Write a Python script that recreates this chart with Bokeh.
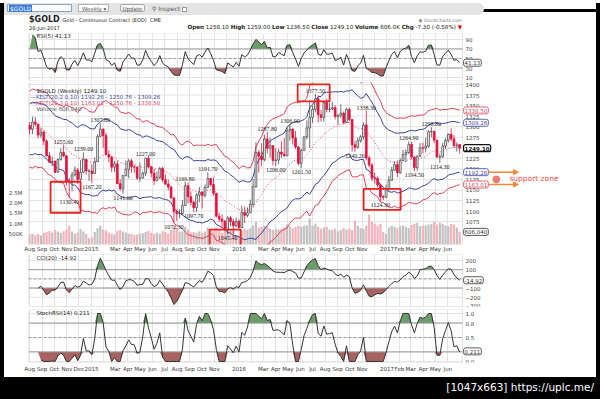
import numpy as np
import pandas as pd
from bokeh.plotting import figure
from bokeh.models import (Range1d, LinearAxis, FixedTicker, Label, Arrow, NormalHead,
                          Div, BoxAnnotation, NumeralTickFormatter)
from bokeh.layouts import column, row
from bokeh.core.properties import value
from bokeh.embed import file_html
from bokeh.resources import INLINE

# ---------------- data (weekly bars, first bar = week ending 2014-08-01) ----------------
first_week = "2014-08-01"

open_px = [1303, 1294, 1311, 1306, 1280, 1287, 1266, 1231, 1216, 1218,
           1192, 1222, 1239, 1231, 1171, 1169, 1186, 1197, 1175, 1192,
           1222, 1195, 1195, 1189, 1217, 1277, 1294, 1279, 1234, 1228,
           1204, 1212, 1165, 1153, 1184, 1199, 1219, 1205, 1204, 1178,
           1178, 1190, 1225, 1205, 1190, 1172, 1180, 1201, 1174, 1164,
           1157, 1131, 1099, 1094, 1094, 1113, 1160, 1134, 1121, 1108,
           1138, 1145, 1137, 1156, 1177, 1163, 1142, 1088, 1081, 1076,
           1056, 1084, 1075, 1065, 1076, 1061, 1097, 1090, 1096, 1116,
           1158, 1239, 1230, 1222, 1271, 1249, 1255, 1220, 1221, 1240,
           1235, 1231, 1290, 1294, 1273, 1252, 1213, 1244, 1276, 1297,
           1322, 1341, 1366, 1328, 1322, 1357, 1341, 1342, 1345, 1324,
           1327, 1332, 1310, 1341, 1317, 1257, 1251, 1267, 1276, 1304,
           1226, 1209, 1178, 1177, 1162, 1134, 1133, 1152, 1173, 1197,
           1210, 1191, 1220, 1234, 1239, 1258, 1228, 1203, 1230, 1250,
           1249, 1254, 1288, 1289, 1268, 1228, 1228, 1254, 1268, 1282,
           1271, 1255, 1258.1]

high_px = [1311, 1324, 1323, 1307, 1298, 1291, 1270, 1240, 1229, 1220,
           1225, 1249, 1255.6, 1232, 1178, 1193, 1206, 1202, 1221, 1239,
           1225, 1199, 1210, 1227, 1282, 1307.8, 1296, 1286, 1244, 1230,
           1219, 1220, 1175, 1185, 1220, 1224, 1224, 1209, 1205, 1215,
           1193, 1227, 1232, 1206, 1200, 1194, 1205, 1205, 1187, 1175,
           1160, 1134, 1104, 1104, 1126, 1169.8, 1168, 1147, 1124, 1143,
           1157, 1146, 1163, 1191.7, 1179, 1180, 1143, 1096, 1092, 1079,
           1088, 1089, 1082, 1085, 1080, 1113, 1111, 1109, 1127, 1176,
           1263, 1245, 1261, 1281, 1287.8, 1274, 1256, 1249, 1248, 1265,
           1273, 1298, 1306, 1296, 1290, 1254, 1248, 1277, 1315, 1362,
           1350, 1377.5, 1374, 1339, 1361, 1366, 1357, 1359, 1351, 1330,
           1353, 1336, 1345, 1345, 1318, 1266, 1274, 1280, 1310, 1338.3,
           1231, 1214, 1191, 1182, 1165, 1138, 1163, 1183, 1205, 1218,
           1220, 1225, 1245, 1246, 1264.9, 1264, 1230, 1232, 1261, 1262,
           1274, 1292, 1298.8, 1290, 1270, 1236, 1262, 1272, 1284, 1296,
           1280, 1263, 1259]

low_px = [1281, 1282, 1302, 1272, 1273, 1256, 1229, 1214, 1206, 1190,
          1190, 1220, 1228, 1161, 1130.4, 1147, 1182, 1164, 1142, 1190,
          1186, 1171, 1167.2, 1188, 1216, 1276, 1250, 1233, 1216, 1192,
          1193, 1164, 1148, 1141.6, 1182, 1178, 1191, 1191, 1174, 1169,
          1178, 1183, 1201, 1180, 1162, 1171, 1176, 1168, 1162, 1149,
          1130, 1072.3, 1077, 1083, 1091, 1112, 1118, 1113, 1097.7, 1098,
          1121, 1106, 1132, 1155, 1158, 1137, 1085, 1074, 1062, 1052,
          1045.4, 1064, 1046, 1063, 1058, 1060, 1072, 1085, 1096, 1110,
          1155, 1191, 1207, 1218, 1236, 1227, 1208, 1206, 1211, 1225,
          1228, 1231, 1267, 1258, 1247, 1208, 1201.5, 1243, 1270, 1250,
          1309, 1334, 1310, 1312, 1312, 1334, 1334, 1339, 1317, 1305,
          1321, 1306, 1309, 1313, 1241, 1240.2, 1248, 1262, 1270, 1220,
          1204, 1171, 1165, 1156, 1124.3, 1126, 1131, 1148, 1172, 1195,
          1180, 1188, 1218, 1216, 1235, 1223, 1194.5, 1196, 1229, 1237,
          1239, 1250, 1275, 1261, 1226, 1214.3, 1227, 1247, 1262, 1265,
          1251, 1241, 1236.5]

close_px = [1294, 1311, 1306, 1280, 1287, 1266, 1231, 1216, 1218, 1192,
            1222, 1239, 1231, 1171, 1169, 1186, 1197, 1175, 1192, 1222,
            1195, 1195, 1189, 1217, 1277, 1294, 1279, 1234, 1228, 1204,
            1212, 1165, 1153, 1184, 1199, 1219, 1205, 1204, 1178, 1178,
            1190, 1225, 1205, 1190, 1172, 1180, 1201, 1174, 1164, 1157,
            1131, 1099, 1094, 1094, 1113, 1160, 1134, 1121, 1108, 1138,
            1145, 1137, 1156, 1177, 1163, 1142, 1088, 1081, 1076, 1056,
            1084, 1075, 1065, 1076, 1061, 1097, 1090, 1096, 1116, 1158,
            1239, 1230, 1222, 1271, 1249, 1255, 1220, 1221, 1240, 1235,
            1231, 1290, 1294, 1273, 1252, 1213, 1244, 1276, 1297, 1322,
            1341, 1366, 1328, 1322, 1357, 1341, 1342, 1345, 1324, 1327,
            1332, 1310, 1341, 1317, 1257, 1251, 1267, 1276, 1304, 1226,
            1209, 1178, 1177, 1162, 1134, 1133, 1152, 1173, 1197, 1210,
            1191, 1220, 1234, 1239, 1258, 1228, 1203, 1230, 1250, 1249,
            1254, 1288, 1289, 1268, 1228, 1228, 1254, 1268, 1282, 1271,
            1255, 1256.4, 1249.1]

volume_k = [480, 520, 450, 500, 430, 560, 600, 650, 580, 700,
            620, 560, 640, 720, 900, 640, 520, 560, 750, 620,
            500, 300,
            350, 600, 780, 900, 720, 680, 560, 520, 480, 650,
            700, 620, 580, 520, 500, 460, 480, 520, 540, 600,
            650, 560, 500, 560, 520, 640, 600, 520, 700, 900,
            800, 620, 640, 850, 720, 580, 600, 560, 640, 560,
            620, 820, 700, 640, 820, 700, 560, 620, 840, 700,
            680, 420, 380,
            700, 760, 720, 780, 920, 1100, 820, 860, 900, 880,
            760, 700, 760, 720, 760, 820, 980, 860, 780, 840,
            900, 860, 900, 920, 1250, 900,
            1000, 860, 760, 820, 860, 720, 700, 760, 640, 700,
            780, 720, 760, 700, 1150, 900, 800, 760, 900, 1450,
            1100, 1000, 900, 1000, 600, 500,
            820, 900, 860, 800, 880, 920, 860, 800, 940, 1000,
            1050, 880, 900, 920, 960, 1000, 1100, 960, 1050, 1000,
            920, 880, 1000, 960, 820, 606.04]

month_labels = ["Aug", "Sep", "Oct", "Nov", "Dec",
                "2015", "", "Mar", "Apr", "May", "Jun", "Jul", "Aug", "Sep", "Oct", "Nov", "",
                "2016", "", "Mar", "Apr", "May", "Jun", "Jul", "Aug", "Sep", "Oct", "Nov", "",
                "2017", "Feb", "Mar", "Apr", "May", "Jun"]

peak_idx = [12, 19, 25, 41, 55, 63, 84, 92, 101, 119, 134, 142]
trough_idx = [14, 22, 33, 51, 58, 70, 87, 96, 115, 124, 136, 145]

for arr in (open_px, high_px, low_px, close_px, volume_k):
    assert len(arr) == 153, len(arr)

# ---------------- derived series ----------------
o = np.array(open_px, float)
h = np.array(high_px, float)
l = np.array(low_px, float)
c = np.array(close_px, float)
vol = np.array(volume_k, float)
x = np.arange(len(c), dtype=float)
weeks = pd.date_range(first_week, periods=len(c), freq="W-FRI")

cs = pd.Series(c)
delta = cs.diff()
gain = delta.clip(lower=0)
loss = -delta.clip(upper=0)


def wilder_rsi(n):
    ag = gain.ewm(alpha=1.0 / n, adjust=False).mean()
    al = loss.ewm(alpha=1.0 / n, adjust=False).mean()
    return 100 - 100 / (1 + ag / al)


rsi5 = wilder_rsi(5).to_numpy()
rsi14 = wilder_rsi(14)
lo14 = rsi14.rolling(14, min_periods=4).min()
hi14 = rsi14.rolling(14, min_periods=4).max()
stoch = ((rsi14 - lo14) / (hi14 - lo14)).to_numpy()

tp = pd.Series((h + l + c) / 3)
sma = tp.rolling(20, min_periods=4).mean()
mdev = tp.rolling(20, min_periods=4).apply(lambda a: np.mean(np.abs(a - a.mean())), raw=True)
cci = ((tp - sma) / (0.015 * mdev)).to_numpy()

ema20 = cs.ewm(span=20, adjust=False).mean().to_numpy()
prev_c = cs.shift(1).fillna(cs.iloc[0]).to_numpy()
tr = np.maximum(h - l, np.maximum(np.abs(h - prev_c), np.abs(l - prev_c)))
atr10 = pd.Series(tr).ewm(alpha=0.1, adjust=False).mean().to_numpy()

# ---------------- style ----------------
FONT = "DejaVu Sans"
RED = "#e2123f"
UPC = "#4a4a4a"
KB = "#3c3f9e"
KR = "#d9435c"
GREEN = "#6d9c6b"
BROWN = "#a8625f"
GRID = "#e3e3e3"

X0 = -0.4          # left edge of the chart frame (bars)
XE = 153.0         # right edge of the drawn chart box (bars)
XR = Range1d(X0, X0 + 548 / 2.829)
months = pd.date_range("2014-08-01", "2017-06-01", freq="MS")
mpos = [round((m - weeks[0]).days / 7.0, 3) for m in months]
lab_pos = [p for p, t in zip(mpos, month_labels) if t]
lab_over = {p: t for p, t in zip(mpos, month_labels) if t}


def style_axis(ax, size="5.5px", standoff=3):
    ax.major_tick_line_color = None
    ax.minor_tick_line_color = None
    ax.major_tick_out = 0
    ax.major_tick_in = 0
    ax.minor_tick_out = 0
    ax.minor_tick_in = 0
    ax.axis_line_color = None
    ax.major_label_text_font = FONT
    ax.major_label_text_font_size = size
    ax.major_label_text_color = "#444444"
    ax.major_label_standoff = standoff


def make_fig(height, yr, top, bottom, yticks, xaxis=False):
    p = figure(width=592, height=height, x_range=XR, y_range=yr,
               output_backend="svg", toolbar_location=None,
               x_axis_location="below" if xaxis else None, y_axis_location=None,
               min_border_left=24, min_border_right=20,
               min_border_top=top, min_border_bottom=bottom)
    p.outline_line_color = None
    p.background_fill_color = "white"
    p.border_fill_color = "white"
    p.xgrid.ticker = FixedTicker(ticks=mpos)
    p.xgrid.grid_line_color = GRID
    p.ygrid.visible = False
    # horizontal grid lines, only across the chart box
    p.segment(x0=X0, x1=XE, y0=yticks, y1=yticks, line_color=GRID, line_width=1, level="underlay")
    # right axis drawn at the box's right edge
    ya = LinearAxis(ticker=FixedTicker(ticks=yticks), fixed_location=XE)
    style_axis(ya)
    p.add_layout(ya, "right")
    p.add_layout(BoxAnnotation(left=X0, right=XE, fill_alpha=0, line_color="#a3a3a3",
                               line_width=1))
    if xaxis:
        xa = p.xaxis[0]
        xa.ticker = FixedTicker(ticks=lab_pos)
        xa.major_label_overrides = lab_over
        style_axis(xa)
        xa.major_label_text_color = "#333333"
    return p, ya


def tag(p, yv, text, color, bold=False, range_name="default"):
    p.add_layout(Label(x=153.4, y=yv, y_range_name=range_name, text=text,
                       text_font=FONT, text_font_size="5.5px", text_color=color,
                       text_font_style="bold" if bold else "normal",
                       text_align="left", text_baseline="middle",
                       background_fill_color="white", border_line_color=color,
                       border_line_width=1.2 if bold else 0.8, padding=1, border_radius=2))


def head(p, xv, yv, text, color="#222222", size="5.5px"):
    p.add_layout(Label(x=xv, y=yv, text=text, text_font=FONT, text_font_size=size,
                       text_color=color, text_align="left", text_baseline="middle"))


def osc_panel(p, vals, hi, lo, mid):
    p.varea(x=x, y1=hi, y2=np.fmax(vals, hi), fill_color=GREEN)
    p.varea(x=x, y1=np.fmin(vals, lo), y2=lo, fill_color=BROWN)
    p.segment(x0=X0, x1=XE, y0=[hi, lo], y1=[hi, lo], line_color="#9a9a9a", line_width=1)
    p.segment(x0=X0, x1=XE, y0=mid, y1=mid, line_color="#9a9a9a", line_width=1,
              line_dash="3 2")
    p.line(x, vals, line_color="#333333", line_width=1)


# ---------------- RSI(5) ----------------
p_rsi, _ = make_fig(50, Range1d(3.7, 102.6), 2, 1, [10, 30, 50, 70, 90])
osc_panel(p_rsi, rsi5, 70, 30, 50)
head(p_rsi, 2.4, 97.0, "RSI(5) 41.13")
tag(p_rsi, 41.13, "41.13", "#333333")

# ---------------- price ----------------
p_px, _ = make_fig(173, Range1d(1020.8, 1404.7), 1, 9, list(range(1075, 1401, 25)), xaxis=True)
p_px.xaxis.major_label_standoff = 1
p_px.extra_y_ranges = {"vol": Range1d(0, 7800)}
vax = LinearAxis(y_range_name="vol", ticker=FixedTicker(ticks=[500, 1000, 1500, 2000, 2500]),
                 major_label_overrides={500: "500K", 1000: "1.0M", 1500: "1.5M",
                                        2000: "2.0M", 2500: "2.5M"})
style_axis(vax, standoff=6)
p_px.add_layout(vax, "left")

up = c >= o
vol_col = np.where(up, "#c2c2c2", "#f3b3bb")
p_px.vbar(x=x, width=0.78, top=vol, bottom=0, y_range_name="vol",
          fill_color=vol_col, line_color=None)

p_px.line(x, ema20 + 3 * atr10, line_color=KR, line_width=1)
p_px.line(x, ema20 - 3 * atr10, line_color=KR, line_width=1)
p_px.line(x, ema20 + 2 * atr10, line_color=KB, line_width=1)
p_px.line(x, ema20 - 2 * atr10, line_color=KB, line_width=1)
p_px.line(x, ema20, line_color=KR, line_width=1, line_dash="1 2")

wick_col = np.where(up, UPC, RED)
p_px.segment(x0=x, y0=l, x1=x, y1=h, line_color=wick_col, line_width=0.8)
p_px.vbar(x=x[up], width=0.62, top=c[up], bottom=o[up], fill_color="white",
          line_color=UPC, line_width=0.8)
p_px.vbar(x=x[~up], width=0.62, top=o[~up], bottom=c[~up], fill_color=RED,
          line_color=RED, line_width=0.8)

p_px.text(x=x[peak_idx], y=h[peak_idx], text=["%.2f" % v for v in h[peak_idx]],
          text_font=value("Liberation Serif"), text_font_size="6px", text_color="#222222",
          text_align="center", text_baseline="bottom", y_offset=-1)
p_px.text(x=x[trough_idx], y=l[trough_idx], text=["%.2f" % v for v in l[trough_idx]],
          text_font=value("Liberation Serif"), text_font_size="6px", text_color="#222222",
          text_align="center", text_baseline="top", y_offset=2)

# red highlight boxes around four turning points
box_idx = [14, 70, 101, 124]
box_val = [l[14], l[70], h[101], l[124]]
box_dx = [-1.3, -0.9, -0.6, 0.6]       # bars
box_dy = [1.0, -4.0, 1.1, 1.5]         # px, positive = up
box_w = [30, 31, 32, 37]
box_h = [31, 17, 17, 21]
PXU = 0.4246
p_px.rect(x=[x[i] + d for i, d in zip(box_idx, box_dx)],
          y=[v + d / PXU for v, d in zip(box_val, box_dy)],
          width=box_w, height=box_h, width_units="screen", height_units="screen",
          fill_alpha=0, line_color="#e8231f", line_width=1.8)

head(p_px, 2.4, 1384.2, "$GOLD (Weekly) 1249.10", "#222222")
head(p_px, 0.3, 1370.1, "\u2014KELT(20,2.0,10) 1192.26 - 1250.76 - 1309.26", KB)
head(p_px, 0.3, 1356.0, "\u2014KELT(20,3.0,10) 1163.01 - 1250.76 - 1338.50", KR)
head(p_px, 2.4, 1341.8, "Volume 606,040", "#555555")

tag(p_px, 1338.50, "1338.50", KR)
tag(p_px, 1309.26, "1309.26", KB)
tag(p_px, 1249.10, "1249.10", "#111111", bold=True)
tag(p_px, 1192.26, "1192.26", KB)
tag(p_px, 1163.01, "1163.01", KR)
tag(p_px, 606.04, "606,040", "#333333", range_name="vol")

ORANGE = "#f08a3a"
for yv in (1192.26, 1163.01):
    p_px.add_layout(Arrow(end=NormalHead(size=5, fill_color=ORANGE, line_color=ORANGE),
                          x_start=162.3, y_start=yv, x_end=172.8, y_end=yv,
                          line_color=ORANGE, line_width=1.5))
p_px.add_layout(Label(x=165.0, y=1177.6, text="\u25cf", text_font=FONT, text_font_size="10px",
                      text_color="#f27a72", text_align="center", text_baseline="middle"))
p_px.add_layout(Label(x=169.6, y=1177.6, text="support zone", text_font=FONT,
                      text_font_size="7.5px", text_color="#ee4b45",
                      text_align="left", text_baseline="middle"))

# ---------------- CCI(20) ----------------
p_cci, _ = make_fig(53, Range1d(-301, 265.2), 0, 1, [-300, -200, -100, 0, 100, 200])
osc_panel(p_cci, cci, 100, -100, 0)
head(p_cci, 2.4, 230, "CCI(20) -14.92")
tag(p_cci, -14.92, "-14.92", "#333333")

# ---------------- StochRSI(14) ----------------
p_st, st_ax = make_fig(70, Range1d(-0.021, 1.083), 2, 15, [0.0, 0.2, 0.5, 0.8, 1.0], xaxis=True)
st_ax.formatter = NumeralTickFormatter(format="0.0")
p_st.xaxis.major_label_standoff = 3
osc_panel(p_st, stoch, 0.8, 0.2, 0.5)
head(p_st, 2.4, 1.0, "StochRSI(14) 0.211")
tag(p_st, 0.211, "0.211", "#333333")

# ---------------- header / frame ----------------
header_html = """
<div style="position:relative;width:592px;height:28px;font-family:'DejaVu Sans',sans-serif;color:#222;">
 <div style="position:absolute;left:0;top:0;width:480px;height:12px;background:#e4e4e4;border-radius:0 6px 6px 0;"></div>
 <div style="position:absolute;left:3px;top:1px;width:65px;height:8px;background:#fff;border:1px solid #8aa4c8;"></div>
 <div style="position:absolute;left:5px;top:2px;height:7px;padding:0 1px;background:#3a7bd8;color:#fff;font-size:6px;line-height:7px;">$GOLD</div>
 <div style="position:absolute;left:74px;top:1px;width:31px;height:8px;background:#fff;border:1px solid #b3b3b3;font-size:5.5px;line-height:8px;color:#555;padding-left:3px;">Weekly &#9662;</div>
 <div style="position:absolute;left:116px;top:1px;width:25px;height:8px;background:#f5f5f5;border:1px solid #aaa;border-radius:2px;font-size:5.5px;line-height:8px;color:#555;text-align:center;">Update</div>
 <div style="position:absolute;left:148px;top:1px;font-size:6px;line-height:9px;color:#555;white-space:nowrap;">&#9906; Inspect <span style="display:inline-block;width:5px;height:5px;border:1px solid #999;background:#fff;vertical-align:middle;"></span></div>
 <div style="position:absolute;left:25px;top:12px;font-size:8px;line-height:9px;font-weight:bold;white-space:nowrap;">$GOLD <span style="font-size:5px;font-weight:normal;">Gold - Continuous Contract (EOD)&nbsp;&nbsp;CME</span></div>
 <div style="position:absolute;left:25px;top:22px;font-size:5px;line-height:6px;">28-Jun-2017</div>
 <div style="position:absolute;right:134px;top:15px;font-size:4.5px;line-height:6px;color:#777;white-space:nowrap;">&#9673; StockCharts.com</div>
 <div style="position:absolute;right:134px;top:21px;font-size:5.6px;line-height:7px;white-space:nowrap;"><b>Open</b> 1258.10 <b>High</b> 1259.00 <b>Low</b> 1236.50 <b>Close</b> 1249.10 <b>Volume</b> 606.0K <b>Chg</b> -7.30 (-0.58%) <span style="color:#d00;">&#9660;</span></div>
</div>
"""
header = Div(text=header_html, width=592, height=28, margin=0)

bottom_html = """
<div style="position:relative;width:600px;height:22px;background:#000;">
 <div style="position:absolute;right:6px;top:4px;color:#fff;font-family:'DejaVu Sans',sans-serif;font-size:10.5px;line-height:12px;white-space:nowrap;">[1047x663] https://uplc.me/</div>
</div>
"""


def blk(w, hgt):
    return Div(text='<div style="width:%dpx;height:%dpx;background:#000;"></div>' % (w, hgt),
               width=w, height=hgt, margin=0)


inner = column(header, p_rsi, p_px, p_cci, p_st, spacing=0)
mid = row(blk(4, 374), inner, blk(4, 374), spacing=0)
bottom = Div(text=bottom_html, width=600, height=22, margin=0)
root = column(blk(600, 3), mid, bottom, spacing=0, margin=0)

open("out.html", "w").write(file_html(root, INLINE, title="$GOLD"))
